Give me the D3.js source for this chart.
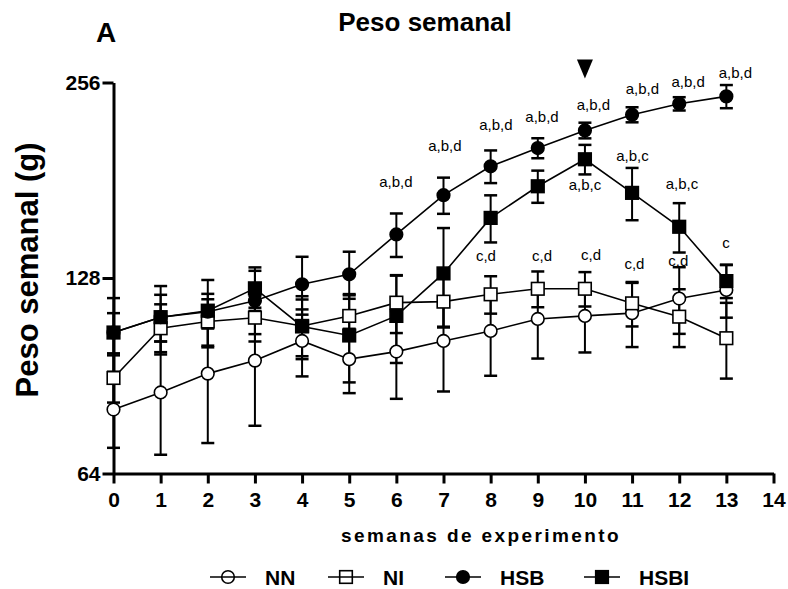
<!DOCTYPE html>
<html>
<head>
<meta charset="utf-8">
<script src="https://cdn.jsdelivr.net/npm/d3@7"></script>
<style>
  body { margin: 0; background: #fff; }
  svg { font-family: "Liberation Sans", Arial, sans-serif; }
</style>
</head>
<body>
<svg id="chart"></svg>
<script>
// weeks of experiment
const weeks = [0, 1, 2, 3, 4, 5, 6, 7, 8, 9, 10, 11, 12, 13];
const xTicks = d3.range(0, 15);
const yTicks = [64, 128, 256];

// mean weekly weight (g) and SD per group
const nnMean   = [80.3, 85.3, 91.2, 95.5, 102.4, 96.0, 98.6, 102.4, 106.1, 110.7, 111.9, 113.0, 119.0, 122.7];
const nnSd     = [10.2, 16.9, 19.9, 19.7, 12.1, 10.9, 15.2, 16.8, 15.6, 14.5, 13.6, 12.8, 14.0, 11.5];
const niMean   = [89.8, 107.1, 109.7, 111.2, 108.0, 111.9, 117.3, 117.7, 120.8, 123.2, 123.2, 117.0, 111.6, 103.4];
const niSd     = [7.5, 9.5, 9.0, 9.0, 12.0, 9.0, 12.0, 10.0, 8.0, 7.8, 7.5, 9.2, 11.4, 13.8];
const hsbMean  = [105.5, 111.4, 113.6, 118.1, 125.2, 129.7, 149.4, 171.7, 190.2, 202.9, 216.0, 228.4, 237.4, 243.7];
const hsbSd    = [13.7, 13.0, 13.5, 13.2, 12.8, 10.8, 11.5, 11.0, 11.0, 7.2, 6.0, 6.1, 5.6, 10.0];
const hsbiMean = [105.5, 111.4, 114.0, 123.4, 107.8, 104.4, 111.9, 130.1, 158.4, 177.2, 195.0, 173.1, 153.5, 126.6];
const hsbiSd   = [7.5, 9.2, 7.0, 9.5, 10.8, 16.0, 17.2, 22.7, 13.2, 10.1, 10.2, 16.0, 13.4, 7.4];

// significance letters: text, week position, weight position
const annoText = ["a,b,d", "a,b,d", "a,b,d", "a,b,d", "a,b,d", "a,b,d", "a,b,d", "a,b,d",
                  "a,b,c", "a,b,c", "a,b,c", "c",
                  "c,d", "c,d", "c,d", "c,d", "c,d"];
const annoX = [5.99, 7.03, 8.11, 9.09, 10.18, 11.22, 12.19, 13.19,
               10.0, 11.01, 12.06, 12.99,
               7.9, 9.09, 10.13, 11.05, 11.98];
const annoY = [179.9, 205, 220.7, 227, 236.8, 250.4, 257.2, 265.5,
               178.5, 197.8, 178.9, 145,
               138.5, 138.8, 139, 134.8, 136];
const arrowWeek = 10;

const groups = [
  {name: "NN",   mean: nnMean,   sd: nnSd,   shape: "circle", fill: "#fff"},
  {name: "NI",   mean: niMean,   sd: niSd,   shape: "square", fill: "#fff"},
  {name: "HSB",  mean: hsbMean,  sd: hsbSd,  shape: "circle", fill: "#000"},
  {name: "HSBI", mean: hsbiMean, sd: hsbiSd, shape: "square", fill: "#000"}
];

const width = 788, height = 589;
const margin = {top: 82.5, right: 15, bottom: 115.5, left: 113.5};

const svg = d3.select("#chart").attr("width", width).attr("height", height);

const x = d3.scaleLinear().domain([0, 14]).range([margin.left, 773.5]);
const y = d3.scaleLog().base(2).domain([64, 256]).range([height - margin.bottom, margin.top]);

// axes
const xAxis = d3.axisBottom(x).tickValues(xTicks).tickSize(10).tickSizeOuter(0).tickPadding(9)
  .tickFormat(d3.format("d"));
const yAxis = d3.axisLeft(y).tickValues(yTicks).tickSize(11).tickSizeOuter(0).tickPadding(2)
  .tickFormat(d3.format("d"));

const gx = svg.append("g").attr("transform", `translate(0,${y(64)})`).call(xAxis);
const gy = svg.append("g").attr("transform", `translate(${x(0)},0)`).call(yAxis);

[gx, gy].forEach(g => {
  g.select(".domain").attr("stroke", "#000").attr("stroke-width", 3);
  g.selectAll(".tick line").attr("stroke", "#000").attr("stroke-width", 3);
  g.selectAll(".tick text").attr("fill", "#000").style("font-size", "21px").style("font-weight", "bold");
});

// series
const plot = svg.append("g");
const line = d3.line().x((d, i) => x(weeks[i])).y(d => y(d));
const capW = 6.5;

groups.forEach(gr => {
  const g = plot.append("g");
  // error bars
  weeks.forEach((w, i) => {
    const lo = gr.mean[i] - gr.sd[i], hi = gr.mean[i] + gr.sd[i];
    g.append("line").attr("x1", x(w)).attr("x2", x(w)).attr("y1", y(lo)).attr("y2", y(hi))
      .attr("stroke", "#000").attr("stroke-width", 2);
    [lo, hi].forEach(v => {
      g.append("line").attr("x1", x(w) - capW).attr("x2", x(w) + capW).attr("y1", y(v)).attr("y2", y(v))
        .attr("stroke", "#000").attr("stroke-width", 2.5);
    });
  });
  g.append("path").datum(gr.mean).attr("d", line)
    .attr("fill", "none").attr("stroke", "#000").attr("stroke-width", 1.6);
});

function marker(sel, shape, fill, cx, cy) {
  if (shape === "circle") {
    sel.append("circle").attr("cx", cx).attr("cy", cy).attr("r", 6.3)
      .attr("fill", fill).attr("stroke", "#000").attr("stroke-width", 1.6);
  } else {
    sel.append("rect").attr("x", cx - 6.3).attr("y", cy - 6.3).attr("width", 12.6).attr("height", 12.6)
      .attr("fill", fill).attr("stroke", "#000").attr("stroke-width", 1.6);
  }
}

groups.forEach(gr => {
  const g = plot.append("g");
  gr.mean.forEach((m, i) => marker(g, gr.shape, gr.fill, x(weeks[i]), y(m)));
});

// significance letters
svg.append("g").selectAll("text")
  .data(annoText)
  .join("text")
  .attr("x", (d, i) => x(annoX[i]))
  .attr("y", (d, i) => y(annoY[i]))
  .attr("text-anchor", "middle")
  .attr("dominant-baseline", "central")
  .style("font-size", "15px")
  .text(d => d);

// arrow marking week 10
const ax = x(arrowWeek), ay = y(256);
svg.append("path")
  .attr("d", `M${ax - 8},${ay - 23} L${ax + 8},${ay - 23} L${ax},${ay - 4} Z`)
  .attr("fill", "#000");

// titles
svg.append("text").attr("x", 425).attr("y", 31).attr("text-anchor", "middle")
  .style("font-size", "26px").style("font-weight", "bold").text("Peso semanal");
svg.append("text").attr("x", 106).attr("y", 42).attr("text-anchor", "middle")
  .style("font-size", "28px").style("font-weight", "bold").text("A");
svg.append("text")
  .attr("transform", `translate(38,270) rotate(-90)`)
  .attr("text-anchor", "middle")
  .style("font-size", "31px").style("font-weight", "bold").text("Peso semanal (g)");
svg.append("text").attr("x", 481).attr("y", 542).attr("text-anchor", "middle")
  .style("font-size", "19px").style("font-weight", "bold").style("letter-spacing", "2.4px")
  .text("semanas de experimento");

// legend (open symbols show the line through them)
const legendX = [228, 346, 463, 602];
const legend = svg.append("g");
groups.forEach((gr, i) => {
  const cx = legendX[i], cy = 577;
  legend.append("line").attr("x1", cx - 18).attr("x2", cx + 18).attr("y1", cy).attr("y2", cy)
    .attr("stroke", "#000").attr("stroke-width", 1.6);
  marker(legend, gr.shape, gr.fill === "#fff" ? "none" : gr.fill, cx, cy);
  legend.append("text").attr("x", cx + 37).attr("y", cy + 8)
    .style("font-size", "21px").style("font-weight", "bold").text(gr.name);
});
</script>
</body>
</html>
